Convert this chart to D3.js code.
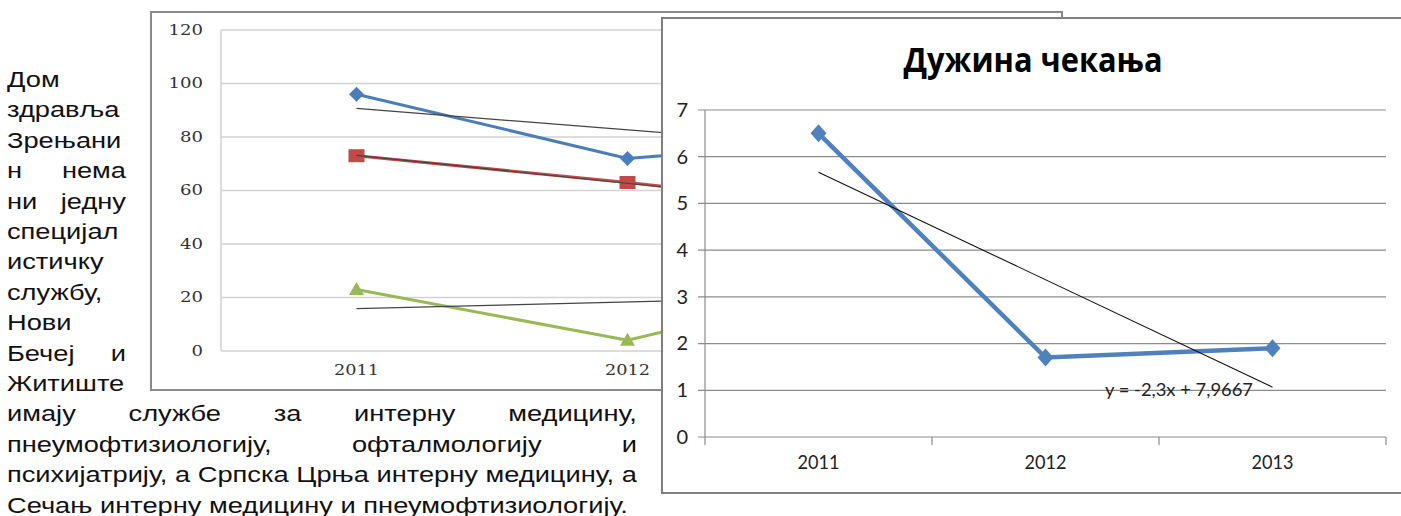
<!DOCTYPE html>
<html><head><meta charset="utf-8">
<script src="https://cdn.jsdelivr.net/npm/d3@7"></script>
<style>body{margin:0;background:#fff;} svg{display:block;}</style>
</head><body>
<svg id="c" width="1401" height="516"></svg>
<script>
// ---------- data ----------
const years = ["2011", "2012", "2013"];
const backTicks = [0, 20, 40, 60, 80, 100, 120];
const backBlue = [96, 72, 80];
const backRed = [73, 63, 52];
const backGreen = [23, 4, 28];
const waitTitle = "Дужина чекања";
const waitValues = [6.5, 1.7, 1.9];
const waitTicks = [0, 1, 2, 3, 4, 5, 6, 7];
const leftLines = ["Дом", "здравља", "Зрењани", "н нема", "ни једну", "специјал", "истичку", "службу,", "Нови", "Бечеј и", "Житиште"];
const bottomLines = ["имају службе за интерну медицину,", "пнеумофтизиологију, офталмологију и", "психијатрију, а Српска Црња интерну медицину, а", "Сечањ интерну медицину и пнеумофтизиологију."];

// ---------- helpers ----------
const svg = d3.select("#c");
function linFit(vals) {
  const xs = vals.map((v, i) => i + 1);
  const mx = d3.mean(xs), my = d3.mean(vals);
  const slope = d3.sum(xs.map((x, i) => (x - mx) * (vals[i] - my))) / d3.sum(xs.map(x => (x - mx) ** 2));
  const icpt = my - slope * mx;
  return {slope, icpt, at: x => slope * x + icpt};
}
function diamond(w, h) { return `M0,${-h}L${w},0L0,${h}L${-w},0Z`; }

// ---------- paragraph text ----------
const FONT = "'Liberation Sans', Arial, sans-serif", FS = 22;
const txtG = svg.append("g").attr("font-family", FONT).attr("font-size", FS).attr("fill", "#111")
  .attr("style", "white-space:pre");
function measure(s) { const t = txtG.append("text").text(s); const w = t.node().getComputedTextLength(); t.remove(); return w; }
const SX = (637 - 7) / measure(bottomLines[2]);
const SPACE = (measure("a a") - measure("aa")) * SX;
function drawLine(str, y, L, R, justify) {
  const words = str.split(" ");
  const ws = words.map(w => measure(w) * SX);
  let gap = SPACE;
  if (justify && words.length > 1) gap = (R - L - d3.sum(ws)) / (words.length - 1);
  let x = L;
  words.forEach((w, i) => {
    txtG.append("text").attr("transform", `translate(${x},${y}) scale(${SX},1)`).text(w);
    x += ws[i] + gap;
  });
}
const LH = 30.4, Y0 = 87;
leftLines.forEach((s, i) => drawLine(s, Y0 + i * LH, 7, 126, true));
bottomLines.forEach((s, j) => drawLine(s, Y0 + (11 + j) * LH, 7, 637, j < bottomLines.length - 1));

// ---------- back chart ----------
const bg = svg.append("g");
bg.append("rect").attr("x", 151).attr("y", 12).attr("width", 911).attr("height", 378)
  .attr("fill", "#fff").attr("stroke", "#8a8a8a").attr("stroke-width", 2);
const xB = d3.scaleBand().domain(years).range([221, 1034]);
const yB = d3.scaleLinear().domain([0, 120]).range([351, 30]);
bg.selectAll(".bgrid").data(backTicks).join("line")
  .attr("x1", 221).attr("x2", 1034).attr("y1", d => yB(d)).attr("y2", d => yB(d))
  .attr("stroke", "#d2d2d2").attr("stroke-width", 1.5);
bg.append("line").attr("x1", 221).attr("x2", 221).attr("y1", yB(120)).attr("y2", yB(0)).attr("stroke", "#d2d2d2").attr("stroke-width", 1.5);
const bAxY = bg.append("g").attr("transform", "translate(203,0)")
  .call(d3.axisLeft(yB).tickValues(backTicks).tickSize(0).tickPadding(0));
bAxY.select(".domain").remove();
bAxY.selectAll("text").attr("font-family", "'DejaVu Serif', serif").attr("font-size", 14).attr("fill", "#333")
  .attr("textLength", d => String(d).length * 11.5).attr("lengthAdjust", "spacingAndGlyphs");
const bAxX = bg.append("g").attr("transform", "translate(0,365)")
  .call(d3.axisBottom(xB).tickSize(0).tickPadding(0));
bAxX.select(".domain").remove();
bAxX.selectAll("text").attr("font-family", "'DejaVu Serif', serif").attr("font-size", 14).attr("fill", "#333")
  .attr("textLength", 45).attr("lengthAdjust", "spacingAndGlyphs");
const cx = y => xB(y) + xB.bandwidth() / 2;
const backSeries = [
  {vals: backBlue, color: "#4a7ebb", shape: "diamond"},
  {vals: backRed, color: "#be4b48", shape: "square"},
  {vals: backGreen, color: "#98b954", shape: "triangle"}
];
const lineB = d3.line().x((d, i) => cx(years[i])).y(d => yB(d));
backSeries.forEach(s => {
  bg.append("path").attr("d", lineB(s.vals)).attr("fill", "none").attr("stroke", s.color).attr("stroke-width", 3);
  bg.selectAll(null).data(s.vals).join("path")
    .attr("transform", (d, i) => `translate(${cx(years[i])},${yB(d)})`)
    .attr("d", s.shape === "diamond" ? diamond(7.5, 7.5) : s.shape === "square" ? "M-8,-6.5H8V6.5H-8Z" : "M0,-7.5L7.5,5.5L-7.5,5.5Z")
    .attr("fill", s.color);
});
backSeries.forEach(s => {
  const f = linFit(s.vals);
  bg.append("line").attr("x1", cx(years[0])).attr("x2", cx(years[2]))
    .attr("y1", yB(f.at(1))).attr("y2", yB(f.at(3))).attr("stroke", "#444").attr("stroke-width", 1.2);
});

// ---------- front chart ----------
const fg = svg.append("g");
fg.append("rect").attr("x", 662).attr("y", 18).attr("width", 800).attr("height", 475)
  .attr("fill", "#fff").attr("stroke", "#7f7f7f").attr("stroke-width", 2);
fg.append("text").attr("x", 1033).attr("y", 72).attr("text-anchor", "middle")
  .attr("font-family", "'Open Sans', 'Noto Sans', sans-serif").attr("font-weight", "bold").attr("font-size", 34)
  .attr("textLength", 259).attr("lengthAdjust", "spacingAndGlyphs").attr("fill", "#000").text(waitTitle);
const xF = d3.scaleBand().domain(years).range([705, 1386]);
const yF = d3.scaleLinear().domain([0, 7]).range([437, 110]);
fg.selectAll(".fgrid").data(waitTicks).join("line")
  .attr("x1", 698).attr("x2", 1386).attr("y1", d => yF(d)).attr("y2", d => yF(d))
  .attr("stroke", "#8c8c8c").attr("stroke-width", 1.2);
fg.append("line").attr("x1", 705).attr("x2", 705).attr("y1", yF(7)).attr("y2", 445).attr("stroke", "#8c8c8c").attr("stroke-width", 1.2);
fg.selectAll(".xt").data(years.slice(1).map(y => xF(y)).concat([1386])).join("line")
  .attr("x1", d => d).attr("x2", d => d).attr("y1", 437).attr("y2", 445).attr("stroke", "#8c8c8c").attr("stroke-width", 1.2);
const fAxY = fg.append("g").attr("transform", "translate(688,0)")
  .call(d3.axisLeft(yF).tickValues(waitTicks).tickFormat(d3.format("d")).tickSize(0).tickPadding(0));
fAxY.select(".domain").remove();
fAxY.selectAll("text").attr("font-family", "Lato, 'Open Sans', sans-serif").attr("font-size", 20).attr("fill", "#222");
const fAxX = fg.append("g").attr("transform", "translate(0,455)")
  .call(d3.axisBottom(xF).tickSize(0).tickPadding(0));
fAxX.select(".domain").remove();
fAxX.selectAll("text").attr("font-family", "Lato, 'Open Sans', sans-serif").attr("font-size", 19).attr("fill", "#222")
  .attr("textLength", 42).attr("lengthAdjust", "spacingAndGlyphs");
const fcx = y => xF(y) + xF.bandwidth() / 2;
const lineF = d3.line().x((d, i) => fcx(years[i])).y(d => yF(d));
fg.append("path").attr("d", lineF(waitValues)).attr("fill", "none").attr("stroke", "#4f81bd").attr("stroke-width", 4.5);
fg.selectAll(".fm").data(waitValues).join("path")
  .attr("transform", (d, i) => `translate(${fcx(years[i])},${yF(d)})`)
  .attr("d", diamond(8, 9)).attr("fill", "#4f81bd");
const ff = linFit(waitValues);
fg.append("line").attr("x1", fcx(years[0])).attr("x2", fcx(years[2]))
  .attr("y1", yF(ff.at(1))).attr("y2", yF(ff.at(3))).attr("stroke", "#111").attr("stroke-width", 1.1);
const fmt = v => String(+v.toFixed(4)).replace(".", ",");
fg.append("text").attr("x", 1105).attr("y", 396)
  .attr("font-family", "Lato, 'Open Sans', sans-serif").attr("font-size", 18).attr("fill", "#222")
  .attr("textLength", 148).attr("lengthAdjust", "spacingAndGlyphs")
  .text(`y = ${fmt(ff.slope)}x + ${fmt(ff.icpt)}`);
</script>
</body></html>
